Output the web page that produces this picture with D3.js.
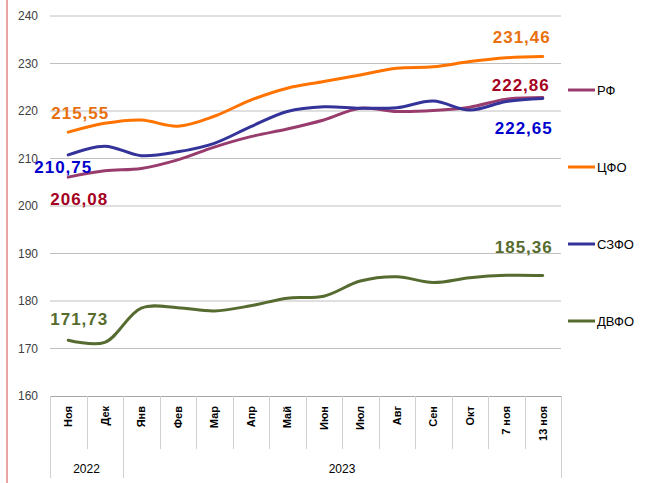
<!DOCTYPE html>
<html>
<head>
<meta charset="utf-8">
<script src="https://cdn.jsdelivr.net/npm/d3@7"></script>
<style>
    body { margin: 0; background: #fff; }
    text { font-family: "Liberation Sans", Arial, sans-serif; }
</style>
</head>
<body>
<div id="chart"></div>
<script>
const months = ['Ноя', 'Дек', 'Янв', 'Фев', 'Мар', 'Апр', 'Май', 'Июн', 'Июл', 'Авг', 'Сен', 'Окт', '7 ноя', '13 ноя'];
const years = [ ['2022', 0, 2], ['2023', 2, 14] ];
const yTicks = [160, 170, 180, 190, 200, 210, 220, 230, 240];

const rf   = [206.08, 207.4, 207.9, 209.7, 212.4, 214.6, 216.2, 218.1, 220.6, 219.9, 220.1, 220.8, 222.5, 222.86];
const cfo  = [215.55, 217.4, 218.1, 216.8, 218.9, 222.3, 224.8, 226.2, 227.6, 229.0, 229.3, 230.4, 231.2, 231.46];
const szfo = [210.75, 212.6, 210.6, 211.4, 213.2, 216.7, 219.9, 220.9, 220.6, 220.7, 222.1, 220.2, 222.0, 222.65];
const dvfo = [171.73, 171.3, 178.5, 178.6, 177.9, 179.0, 180.6, 181.0, 184.2, 185.1, 183.9, 184.9, 185.4, 185.36];

const series = [
    { name: 'РФ',   values: rf,   color: '#983c6e', label: '#a50021' },
    { name: 'ЦФО',  values: cfo,  color: '#ff7300', label: '#e8700f' },
    { name: 'СЗФО', values: szfo, color: '#33339a', label: '#0000cc' },
    { name: 'ДВФО', values: dvfo, color: '#556b2f', label: '#566b2e' }
];

const CHART_WIDTH = 651;
const CHART_HEIGHT = 483;
const LEFT = 50, RIGHT = 561, TOP = 16, BOTTOM = 396;

const svg = d3.select('#chart')
    .append('svg')
    .attr('width', CHART_WIDTH)
    .attr('height', CHART_HEIGHT);

// pink rule on the left edge
svg.append('line')
    .attr('x1', 7).attr('x2', 7)
    .attr('y1', 0).attr('y2', CHART_HEIGHT)
    .attr('stroke', '#e8a3a3')
    .attr('stroke-width', 2);

// Scales
const xScale = d3.scaleBand()
    .domain(months)
    .range([LEFT, RIGHT]);

const yScale = d3.scaleLinear()
    .domain([160, 240])
    .range([BOTTOM, TOP]);

const cx = i => xScale(months[i]) + xScale.bandwidth() / 2;

// Gridlines
svg.append('g')
    .selectAll('line')
    .data(yTicks.slice(1))
    .enter()
    .append('line')
    .attr('x1', LEFT).attr('x2', RIGHT)
    .attr('y1', d => yScale(d)).attr('y2', d => yScale(d))
    .attr('stroke', '#c0c0c0')
    .attr('stroke-width', 1);

// Y axis labels
const yAxis = d3.axisLeft(yScale)
    .tickValues(yTicks)
    .tickSize(0)
    .tickPadding(12);
svg.append('g')
    .attr('class', 'y-axis')
    .attr('transform', `translate(${LEFT}, 0)`)
    .call(yAxis)
    .call(g => g.select('.domain').remove())
    .selectAll('text')
    .attr('font-size', 12)
    .attr('font-family', '"Liberation Sans", Arial, sans-serif')
    .attr('fill', '#404040');

// X axis: baseline, category dividers, labels
const xg = svg.append('g').attr('class', 'x-axis');
xg.append('line')
    .attr('x1', LEFT).attr('x2', RIGHT)
    .attr('y1', BOTTOM + 0.5).attr('y2', BOTTOM + 0.5)
    .attr('stroke', '#a6a6a6');

const edges = months.map(m => xScale(m)).concat([RIGHT]);
const yearEdges = [0, 2, 14];
xg.selectAll('.div')
    .data(edges)
    .enter()
    .append('line')
    .attr('x1', d => Math.round(d) + 0.5)
    .attr('x2', d => Math.round(d) + 0.5)
    .attr('y1', BOTTOM)
    .attr('y2', (d, i) => yearEdges.includes(i) ? 478 : 449)
    .attr('stroke', '#d0d0d0');

xg.selectAll('.month')
    .data(months)
    .enter()
    .append('text')
    .attr('transform', (d, i) => `translate(${cx(i)}, 406) rotate(-90)`)
    .attr('text-anchor', 'end')
    .attr('dy', '0.36em')
    .attr('font-size', 11)
    .attr('font-weight', 'bold')
    .attr('fill', '#000')
    .text(d => d);

xg.selectAll('.year')
    .data(years)
    .enter()
    .append('text')
    .attr('x', d => (xScale(months[d[1]]) + (d[2] < months.length ? xScale(months[d[2]]) : RIGHT)) / 2)
    .attr('y', 473)
    .attr('text-anchor', 'middle')
    .attr('font-size', 12)
    .attr('fill', '#000')
    .text(d => d[0]);

// Lines
const line = d3.line()
    .x((d, i) => cx(i))
    .y(d => yScale(d))
    .curve(d3.curveCatmullRom.alpha(0.5));

svg.append('g')
    .selectAll('path')
    .data(series)
    .enter()
    .append('path')
    .attr('d', d => line(d.values))
    .attr('fill', 'none')
    .attr('stroke', d => d.color)
    .attr('stroke-width', 3)
    .attr('stroke-linecap', 'round');

// Value labels at first and last points  [series, index, dx, dy]
const fmt = v => v.toFixed(2).replace('.', ',');
const labelPos = [
    [1, 0, -17, -13],
    [2, 0, -34, 18],
    [0, 0, -18, 28],
    [3, 0, -18, -15],
    [1, 13, -50, -14],
    [0, 13, -51, -6],
    [2, 13, -48, 36],
    [3, 13, -48, -23]
];
svg.append('g')
    .selectAll('text')
    .data(labelPos)
    .enter()
    .append('text')
    .attr('x', d => cx(d[1]) + d[2])
    .attr('y', d => yScale(series[d[0]].values[d[1]]) + d[3])
    .attr('font-size', 17)
    .attr('font-weight', 'bold')
    .attr('letter-spacing', 1)
    .attr('fill', d => series[d[0]].label)
    .text(d => fmt(series[d[0]].values[d[1]]));

// Legend
const legend = svg.append('g')
    .selectAll('g')
    .data(series)
    .enter()
    .append('g')
    .attr('transform', (d, i) => `translate(568, ${90 + i * 77})`);
legend.append('line')
    .attr('x1', 0).attr('x2', 27)
    .attr('stroke', d => d.color)
    .attr('stroke-width', 3);
legend.append('text')
    .attr('x', 29)
    .attr('dy', '0.36em')
    .attr('font-size', 13)
    .attr('fill', '#000')
    .text(d => d.name);
</script>
</body>
</html>
